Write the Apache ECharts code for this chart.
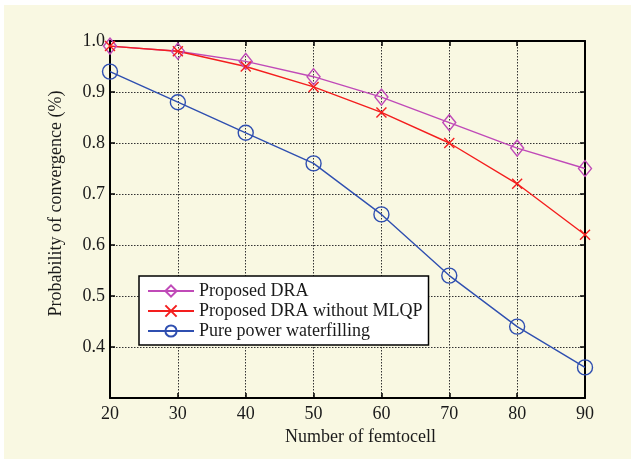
<!DOCTYPE html>
<html><head><meta charset="utf-8">
<script src="https://cdn.jsdelivr.net/npm/echarts@6/dist/echarts.min.js"></script>
<style>
html,body{margin:0;padding:0;background:#fff;}
#bg{position:absolute;left:4px;top:5px;width:627px;height:454px;background:#f9f8e2;}
#c{position:absolute;left:0;top:0;width:631px;height:459px;}
</style></head>
<body><div id="bg"></div><div id="c"></div>
<script>
const categories = [20, 30, 40, 50, 60, 70, 80, 90];
const seriesNames = ['Proposed DRA', 'Proposed DRA without MLQP', 'Pure power waterfilling'];
const proposedDRA = [0.99, 0.98, 0.96, 0.93, 0.89, 0.84, 0.79, 0.75];
const withoutMLQP = [0.99, 0.98, 0.95, 0.91, 0.86, 0.80, 0.72, 0.62];
const purePower = [0.94, 0.88, 0.82, 0.76, 0.66, 0.54, 0.44, 0.36];
const yTicks = [0.4, 0.5, 0.6, 0.7, 0.8, 0.9, 1.0];

const chart = echarts.init(document.getElementById('c'), null, {renderer: 'canvas'});
const font = 'Liberation Serif';
const txt = '#1a1a1a';
const pairs = arr => categories.map((x, i) => [x, arr[i]]);
const colors = ['#c04ab8', '#f41e1e', '#2f4fb0'];
const xPath = 'path://M0,0L10,10M10,0L0,10';

function mk(name, data, color, symbol, size) {
  return {
    name, type: 'line', data: pairs(data), symbol, symbolSize: size,
    showSymbol: true,
    lineStyle: {color, width: 1.4},
    itemStyle: {color: symbol === xPath ? color : 'rgba(0,0,0,0)', borderColor: color, borderWidth: 1.4},
    emphasis: {disabled: true}, animation: false, z: 3
  };
}

const axisCommon = {
  axisLine: {show: true, lineStyle: {color: '#000', width: 2}},
  axisTick: {show: true, inside: true, length: 5, lineStyle: {color: '#000', width: 1.5}},
  splitLine: {show: false}
};

chart.setOption({
  animation: false,
  backgroundColor: 'transparent',
  grid: {left: 110, right: 46, top: 41, bottom: 61},
  legend: {
    data: seriesNames, left: 139, top: 276, orient: 'vertical',
    itemWidth: 46, itemHeight: 14, itemGap: 2,
    backgroundColor: '#fff', borderColor: '#000', borderWidth: 1.5, borderRadius: 0,
    padding: [6, 6, 5, 8],
    textStyle: {fontFamily: font, fontSize: 18, color: txt},
    selectedMode: false
  },
  xAxis: [{
    type: 'value', min: 20, max: 90, interval: 10, position: 'bottom',
    name: 'Number of femtocell', nameLocation: 'middle', nameGap: 28,
    nameTextStyle: {fontFamily: font, fontSize: 18, color: txt, padding: [0, 0, 0, 26]},
    axisLabel: {fontFamily: font, fontSize: 18, color: txt, margin: 7},
    ...axisCommon,
    splitLine: {show: true, lineStyle: {color: '#333', type: [1.5, 1.5], width: 1}}
  }, {
    type: 'value', min: 20, max: 90, interval: 10, position: 'top',
    axisLabel: {show: false}, ...axisCommon
  }],
  yAxis: [{
    type: 'value', min: 0.3, max: 1.0, interval: 0.1, position: 'left',
    name: 'Probability of convergence (%)', nameLocation: 'middle', nameGap: 45,
    nameTextStyle: {fontFamily: font, fontSize: 18, color: txt, padding: [0, 0, 0, 32]},
    axisLabel: {fontFamily: font, fontSize: 18, color: txt, margin: 5,
      formatter: v => yTicks.some(t => Math.abs(t - v) < 1e-6) ? v.toFixed(1) : ''},
    ...axisCommon,
    splitLine: {show: true, lineStyle: {color: '#333', type: [1.5, 1.5], width: 1}}
  }, {
    type: 'value', min: 0.3, max: 1.0, interval: 0.1, position: 'right',
    axisLabel: {show: false}, ...axisCommon
  }],
  series: [
    mk(seriesNames[0], proposedDRA, colors[0], 'diamond', [13, 16]),
    mk(seriesNames[1], withoutMLQP, colors[1], xPath, 10),
    mk(seriesNames[2], purePower, colors[2], 'circle', 15)
  ]
});
</script></body></html>
